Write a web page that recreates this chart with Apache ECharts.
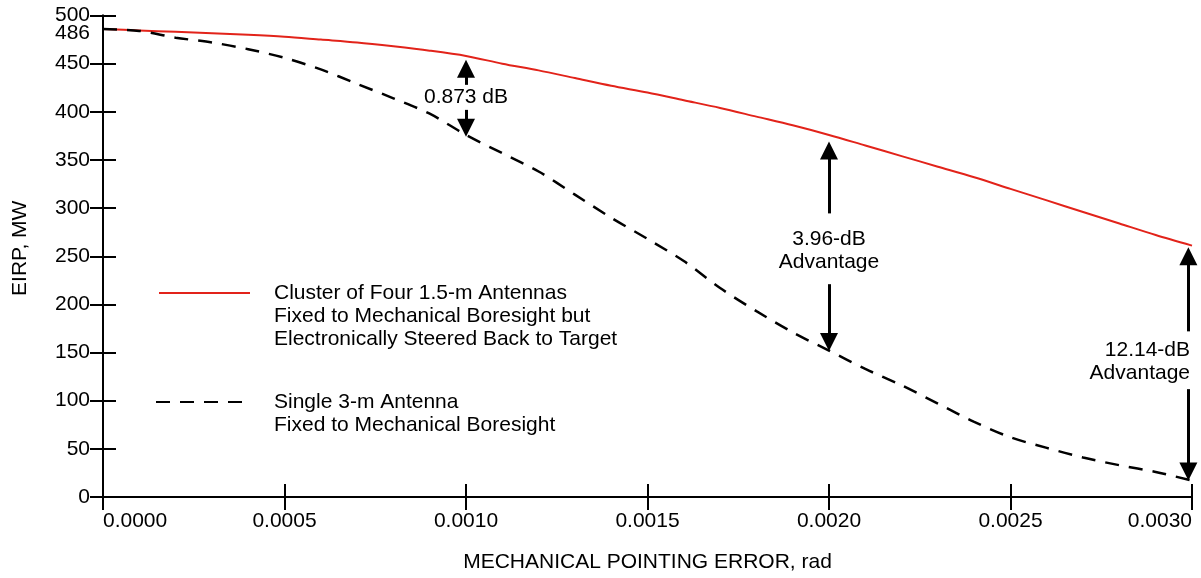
<!DOCTYPE html>
<html>
<head>
<meta charset="utf-8">
<script src="https://cdn.jsdelivr.net/npm/echarts@6/dist/echarts.min.js"></script>
<style>
  html, body { margin: 0; padding: 0; background: #fff; }
  #chart { width: 1201px; height: 578px; }
</style>
</head>
<body>
<div id="chart"></div>
<script>
var chart = echarts.init(document.getElementById('chart'));

// pointing error, rad
const errorRad = [0, 0.0001, 0.0002, 0.0003, 0.0004, 0.0005, 0.0006, 0.0007, 0.0008, 0.0009,
  0.0010, 0.0011, 0.0012, 0.0013, 0.0014, 0.0015, 0.0016, 0.0017, 0.0018, 0.0019,
  0.0020, 0.0021, 0.0022, 0.0023, 0.0024, 0.0025, 0.0026, 0.0027, 0.0028, 0.0029, 0.0030];

// EIRP, MW
const clusterEirp = [486, 484.5, 483, 481.5, 480, 478, 475, 472, 468, 463.5,
  458, 450, 443, 435, 427, 420, 412, 404, 395, 386,
  376, 365, 354, 343, 332, 320, 308, 296, 284, 272, 261];
const singleEirp = [486, 484, 477, 472, 465, 456, 444, 429, 414, 398,
  376, 357, 338, 314, 290, 268, 245, 217, 193, 171,
  152, 133, 116, 97, 78, 62, 51, 41, 33, 26, 17];

const seriesNames = [
  'Cluster of Four 1.5-m Antennas\nFixed to Mechanical Boresight but\nElectronically Steered Back to Target',
  'Single 3-m Antenna\nFixed to Mechanical Boresight'
];

// dB advantage arrows: x, shaft start/end (up arrow), shaft start/end (down arrow)
const arrows = [
  { x: 0.001, up: [428, 444.6], down: [402, 383.5] },
  { x: 0.002, up: [294.5, 359.7], down: [221, 161] },
  { x: 0.00299, up: [172, 250], down: [112, 26.4] }
];
// annotation texts
const notes = [
  { coord: [0.001, 415.6], text: '0.873 dB', align: 'center', offset: [0, 0] },
  { coord: [0.002, 256], text: '3.96-dB\nAdvantage', align: 'center', offset: [0, 0] },
  { coord: [0.003, 140], text: '12.14-dB\nAdvantage', align: 'right', offset: [-2, 0] }
];

const FONT = 'Liberation Sans';
const FS = 21;

function pair(x, a, b) {
  return [{ coord: [x, a], symbol: 'none' }, { coord: [x, b], symbol: 'triangle' }];
}
var arrowLines = [];
arrows.forEach(function (a) {
  arrowLines.push(pair(a.x, a.up[0], a.up[1]));
  arrowLines.push(pair(a.x, a.down[0], a.down[1]));
});

var notePoints = notes.map(function (n) {
  return {
    coord: n.coord,
    label: { formatter: n.text, align: n.align, offset: n.offset }
  };
});
notePoints.push({
  coord: [0, 486],
  label: { formatter: '486', position: 'left', distance: 13, offset: [0, 4] }
});

var axisLineStyle = { color: '#000', width: 2 };

function legendBox(name, left, top, width, pad, lead) {
  return {
    data: [name],
    left: left,
    top: top,
    padding: 0,
    itemWidth: width,
    itemHeight: 14,
    itemStyle: { opacity: 0 },
    formatter: function (n) { return lead + n; },
    textStyle: { fontFamily: FONT, fontSize: FS, lineHeight: 23, color: '#000', padding: [0, 0, 0, pad] },
    selectedMode: false
  };
}

var option = {
  animation: false,
  backgroundColor: '#fff',
  textStyle: { fontFamily: FONT },
  grid: { left: 103, right: 9, top: 15.5, bottom: 79.5 },
  legend: [
    legendBox(seriesNames[0], 158, 235.5, 91, 19, '\n\n'),
    legendBox(seriesNames[1], 155, 367.5, 95, 18, '\n')
  ],
  xAxis: [{
    type: 'value',
    min: 0,
    max: 0.003,
    interval: 0.0005,
    name: 'MECHANICAL POINTING ERROR, rad',
    nameLocation: 'middle',
    nameGap: 55,
    nameTextStyle: { fontFamily: FONT, fontSize: FS, color: '#000' },
    axisLine: { show: true, lineStyle: axisLineStyle },
    axisTick: { show: true, inside: true, length: 13, lineStyle: axisLineStyle },
    axisLabel: {
      fontFamily: FONT, fontSize: FS, color: '#000', margin: 14,
      alignMinLabel: 'left', alignMaxLabel: 'right',
      formatter: function (v) { return v.toFixed(4); }
    },
    splitLine: { show: false }
  }, {
    type: 'value',
    position: 'top',
    min: 0,
    max: 0.003,
    interval: 0.0005,
    axisLine: { show: true, lineStyle: axisLineStyle },
    axisTick: { show: true, inside: true, length: 13, lineStyle: axisLineStyle },
    axisLabel: { show: false },
    splitLine: { show: false }
  }],
  yAxis: [{
    type: 'value',
    min: 0,
    max: 500,
    interval: 50,
    name: 'EIRP, MW',
    nameLocation: 'middle',
    nameGap: 72,
    nameTextStyle: { fontFamily: FONT, fontSize: FS, color: '#000', padding: [0, 0, 0, 16] },
    axisLine: { show: true, lineStyle: axisLineStyle },
    axisTick: { show: true, inside: true, length: 13, lineStyle: axisLineStyle },
    axisLabel: { fontFamily: FONT, fontSize: FS, color: '#000', margin: 13 },
    splitLine: { show: false }
  }, {
    type: 'value',
    position: 'right',
    min: 0,
    max: 500,
    interval: 50,
    axisLine: { show: true, lineStyle: axisLineStyle },
    axisTick: { show: true, inside: true, length: 13, lineStyle: axisLineStyle },
    axisLabel: { show: false },
    splitLine: { show: false }
  }],
  series: [{
    name: seriesNames[0],
    type: 'line',
    symbol: 'none',
    smooth: 0.3,
    data: errorRad.map(function (x, i) { return [x, clusterEirp[i]]; }),
    lineStyle: { color: '#e2231a', width: 2 },
    itemStyle: { color: '#e2231a' },
    z: 3
  }, {
    name: seriesNames[1],
    type: 'line',
    symbol: 'none',
    smooth: 0.3,
    data: errorRad.map(function (x, i) { return [x, singleEirp[i]]; }),
    lineStyle: { color: '#000', width: 2.5, type: [14, 10] },
    itemStyle: { color: '#000' },
    z: 3,
    markLine: {
      silent: true,
      symbolSize: 18,
      lineStyle: { color: '#000', width: 3, type: 'solid' },
      itemStyle: { color: '#000' },
      label: { show: false },
      emphasis: { disabled: true },
      data: arrowLines
    },
    markPoint: {
      silent: true,
      symbol: 'circle',
      symbolSize: 0,
      itemStyle: { color: 'rgba(0,0,0,0)' },
      label: {
        show: true,
        position: 'inside',
        color: '#000',
        fontFamily: FONT,
        fontSize: FS,
        lineHeight: 23
      },
      data: notePoints
    }
  }]
};

chart.setOption(option);
</script>
</body>
</html>
